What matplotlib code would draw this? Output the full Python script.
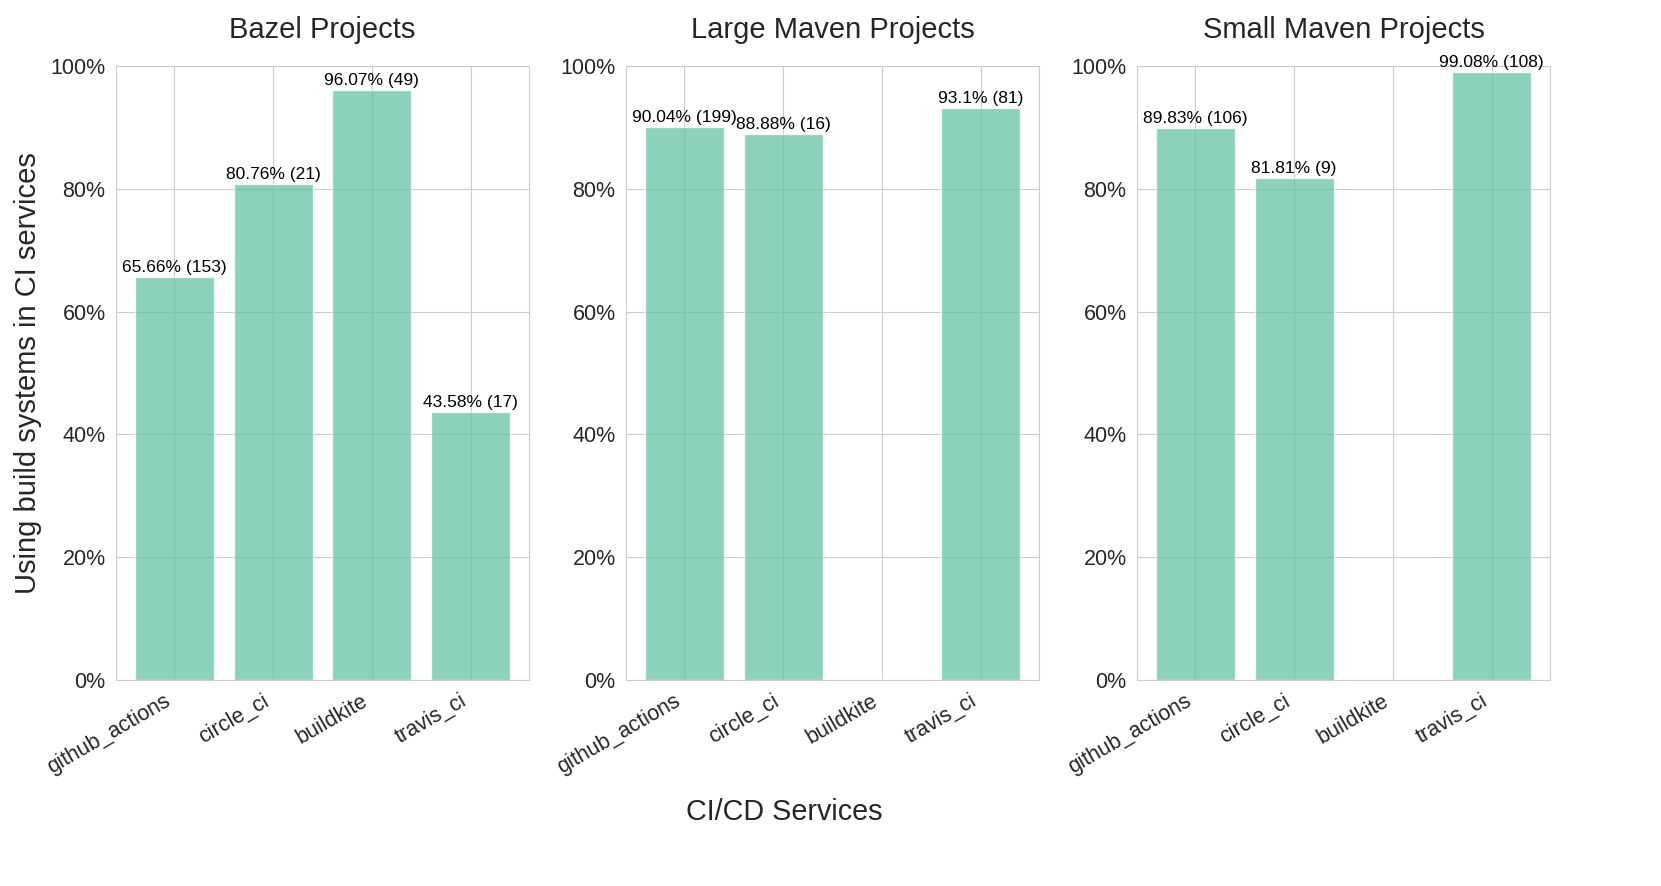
"""
CI/CD services usage of build systems, per project group
"""

import numpy as np
import matplotlib
matplotlib.use("Agg")
import matplotlib.pyplot as plt
import seaborn as sns
from matplotlib.ticker import PercentFormatter

services = ["github_actions", "circle_ci", "buildkite", "travis_ci"]
titles = ["Bazel Projects", "Large Maven Projects", "Small Maven Projects"]

# percentage of projects using the build system in CI, nan = no projects
bazel_pct = [65.66, 80.76, 96.07, 43.58]
bazel_cnt = [153, 21, 49, 17]
large_maven_pct = [90.04, 88.88, np.nan, 93.1]
large_maven_cnt = [199, 16, None, 81]
small_maven_pct = [89.83, 81.81, np.nan, 99.08]
small_maven_cnt = [106, 9, None, 108]

sns.set_style("whitegrid")
plt.rcParams['font.family'] = ['Liberation Sans', 'DejaVu Sans']

fig = plt.figure(figsize=(16.61, 8.86), dpi=100)
lefts = [116 / 1661, 626 / 1661, 1137 / 1661]
width = 413 / 1661
bottom = 1 - 680 / 886
height = (680 - 66) / 886

bar_color = sns.color_palette("Set2")[0]
groups = [(bazel_pct, bazel_cnt), (large_maven_pct, large_maven_cnt),
          (small_maven_pct, small_maven_cnt)]

for i, (pct, cnt) in enumerate(groups):
    ax = fig.add_axes([lefts[i], bottom, width, height])
    x = np.arange(len(services))
    ax.bar(x, pct, width=0.8, color=bar_color, alpha=0.75,
           edgecolor="white", linewidth=1)
    for xi, p, c in zip(x, pct, cnt):
        if c is None or np.isnan(p):
            continue
        ax.annotate("{:g}% ({})".format(p, c),
                    xy=(xi, p), xytext=(0, 1.5), textcoords="offset points",
                    ha="center", va="bottom", fontsize=12.5, color="black")
    ax.set_xlim(-0.59, 3.59)
    ax.set_ylim(0, 100)
    ax.set_yticks(np.arange(0, 101, 20))
    ax.yaxis.set_major_formatter(PercentFormatter(100, decimals=0))
    ax.set_xticks(x)
    ax.set_xticklabels(services, rotation=30, ha="right", fontsize=15.5)
    ax.tick_params(axis="y", labelsize=15.5, pad=4)
    ax.tick_params(axis="x", pad=4)
    ax.set_title(titles[i], fontsize=21, pad=20, color="#262626")
    for s in ax.spines.values():
        s.set_color("#cccccc")

fig.text(28 / 1661, 1 - 373 / 886, "Using build systems in CI services",
         rotation=90, ha="center", va="center", fontsize=21, color="#262626")
fig.text(784 / 1661, 1 - 812 / 886, "CI/CD Services",
         ha="center", va="center", fontsize=20.7, color="#262626")

fig.savefig("out.png", dpi=100)

# -fin-
